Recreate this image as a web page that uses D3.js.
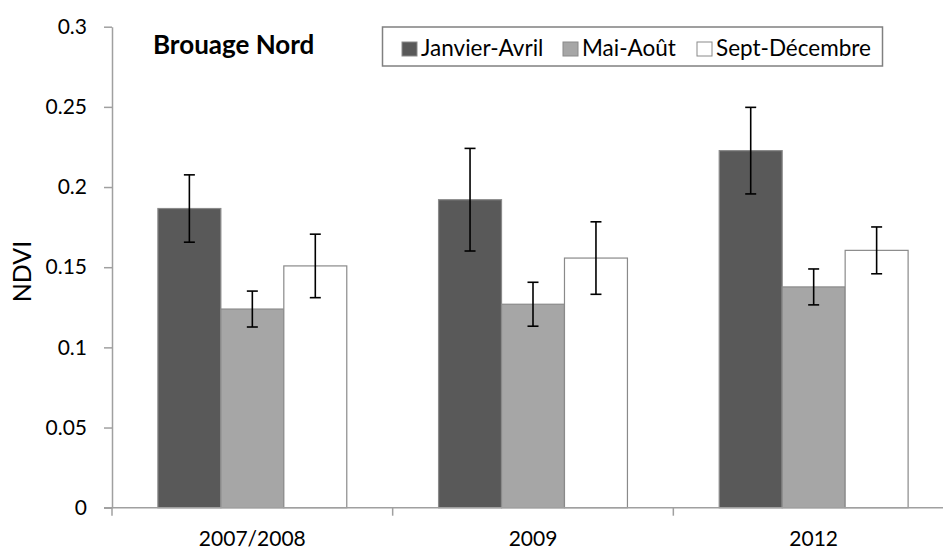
<!DOCTYPE html>
<html>
<head>
<meta charset="utf-8">
<script src="https://cdn.jsdelivr.net/npm/d3@7"></script>
<style>
  body { margin: 0; background: #fff; }
  text { font-family: Lato, "Open Sans", sans-serif; fill: #000; }
</style>
</head>
<body>
<script>
// chart data
var categories = ['2007/2008', '2009', '2012'];
var seriesNames = ['Janvier-Avril', 'Mai-Août', 'Sept-Décembre'];
var seriesColors = ['#595959', '#a6a6a6', '#ffffff'];
var janvierAvril = [0.1866, 0.1921, 0.2227];
var maiAout = [0.1239, 0.1269, 0.1377];
var septDecembre = [0.1508, 0.1557, 0.1605];
var errJanvierAvril = [0.021, 0.032, 0.027];
var errMaiAout = [0.0112, 0.0137, 0.0112];
var errSeptDecembre = [0.0198, 0.0226, 0.0146];
var yTicks = [0, 0.05, 0.1, 0.15, 0.2, 0.25, 0.3];
var yTickLabels = ['0', '0.05', '0.1', '0.15', '0.2', '0.25', '0.3'];

var values = [janvierAvril, maiAout, septDecembre];
var errors = [errJanvierAvril, errMaiAout, errSeptDecembre];

// graph dimensions
var width = 943, height = 550,
    plotLeft = 112, plotRight = 954, plotTop = 26.7, plotBottom = 507.7;

var svg = d3.select('body').append('svg')
    .attr('width', width)
    .attr('height', height);

// scales
var pad = 0.327;
var x0 = d3.scaleBand().domain(categories).range([plotLeft, plotRight])
    .paddingInner(pad).paddingOuter(pad / 2);
var x1 = d3.scaleBand().domain(seriesNames).range([0, x0.bandwidth()]);
var y = d3.scaleLinear().domain([0, 0.3]).range([plotBottom, plotTop]);

// bars
var groups = svg.selectAll('g.group')
    .data(categories)
  .enter().append('g')
    .attr('class', 'group')
    .attr('transform', function(d) { return 'translate(' + x0(d) + ',0)'; });

groups.each(function(cat, ci) {
    var g = d3.select(this);
    seriesNames.forEach(function(s, si) {
        var v = values[si][ci], e = errors[si][ci];
        g.append('rect')
            .attr('x', x1(s))
            .attr('y', y(v))
            .attr('width', x1.bandwidth())
            .attr('height', y(0) - y(v))
            .attr('fill', seriesColors[si])
            .attr('stroke', '#8a8a8a')
            .attr('stroke-width', 1.2);
        var cx = x1(s) + x1.bandwidth() / 2;
        g.append('line')
            .attr('x1', cx).attr('x2', cx)
            .attr('y1', y(v + e)).attr('y2', y(v - e))
            .attr('stroke', '#000').attr('stroke-width', 1.6);
        [v + e, v - e].forEach(function(t) {
            g.append('line')
                .attr('x1', cx - 5.5).attr('x2', cx + 5.5)
                .attr('y1', y(t)).attr('y2', y(t))
                .attr('stroke', '#000').attr('stroke-width', 1.6);
        });
    });
});

// y-axis
var yAxis = d3.axisLeft(y)
    .tickValues(yTicks)
    .tickFormat(function(d, i) { return yTickLabels[i]; })
    .tickSize(8)
    .tickSizeOuter(0)
    .tickPadding(17);

var gy = svg.append('g')
    .attr('transform', 'translate(' + plotLeft + ',0)')
    .call(yAxis);
gy.select('.domain').attr('stroke', '#a0a0a0').attr('stroke-width', 1.5);
gy.selectAll('.tick line').attr('stroke', '#a0a0a0').attr('stroke-width', 1.5);
gy.selectAll('.tick text')
    .style('font-family', 'Lato, sans-serif')
    .style('font-size', '21px')
    .attr('fill', '#000');

// x-axis: labels at centres, ticks at category boundaries
var xAxis = d3.axisBottom(x0).tickSize(0).tickPadding(23).tickSizeOuter(0);
var gx = svg.append('g')
    .attr('transform', 'translate(0,' + plotBottom + ')')
    .call(xAxis);
gx.select('.domain').remove();
gx.selectAll('.tick text')
    .style('font-family', 'Lato, sans-serif')
    .style('font-size', '21px')
    .attr('fill', '#000');

gx.append('line')
    .attr('x1', plotLeft - 8).attr('x2', width)
    .attr('y1', 0).attr('y2', 0)
    .attr('stroke', '#a0a0a0').attr('stroke-width', 1.5);

var bounds = d3.range(categories.length + 1).map(function(i) { return plotLeft + i * x0.step(); });
gx.selectAll('line.bound')
    .data(bounds)
  .enter().append('line')
    .attr('class', 'bound')
    .attr('x1', function(d) { return d; }).attr('x2', function(d) { return d; })
    .attr('y1', 0).attr('y2', 8)
    .attr('stroke', '#a0a0a0').attr('stroke-width', 1.5);

// axis title
svg.append('text')
    .attr('text-anchor', 'middle')
    .attr('transform', 'translate(31,271.5)rotate(-90)')
    .style('font-size', '25px')
    .text('NDVI');

// chart title
svg.append('text')
    .attr('x', 153)
    .attr('y', 53.5)
    .style('font-size', '26px')
    .style('font-weight', 'bold')
    .text('Brouage Nord');

// legend
var legend = svg.append('g');
legend.append('rect')
    .attr('x', 382.5).attr('y', 27)
    .attr('width', 500).attr('height', 39)
    .attr('fill', '#fff')
    .attr('stroke', '#808080').attr('stroke-width', 1.5);

var legendX = [402, 563, 697];
seriesNames.forEach(function(s, i) {
    legend.append('rect')
        .attr('x', legendX[i]).attr('y', 42)
        .attr('width', 15).attr('height', 14)
        .attr('fill', seriesColors[i])
        .attr('stroke', '#8a8a8a').attr('stroke-width', 1);
    legend.append('text')
        .attr('x', legendX[i] + 19)
        .attr('y', 56)
        .style('font-size', '22.5px')
        .text(s);
});
</script>
</body>
</html>
